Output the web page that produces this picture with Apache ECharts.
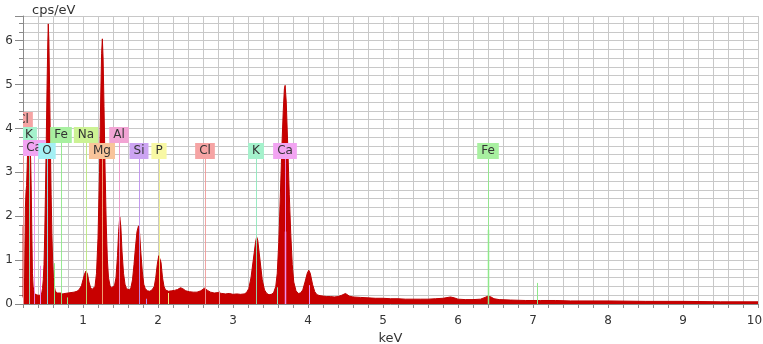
<!DOCTYPE html>
<html><head><meta charset="utf-8">
<script src="https://cdn.jsdelivr.net/npm/echarts@6/dist/echarts.min.js"></script>
<style>html,body{margin:0;padding:0;background:#fff}#c{width:763px;height:344px}</style>
</head><body><div id="c"></div>
<script>
// ---- spectrum (keV, cps/eV) ----
const energy = [
0.200,0.202,0.206,0.210,0.216,0.222,0.226,0.232,0.240,0.248,0.255,0.262,0.270,0.278,0.286,0.294,0.302,0.310,0.318,0.326,
0.335,0.345,0.360,0.380,0.400,0.420,0.440,0.450,0.460,0.470,0.480,0.490,0.500,0.510,0.520,0.530,0.537,0.545,0.555,0.565,
0.575,0.585,0.595,0.605,0.615,0.630,0.650,0.670,0.700,0.730,0.760,0.800,0.840,0.880,0.920,0.950,0.980,1.000,1.020,1.040,
1.060,1.080,1.100,1.120,1.140,1.160,1.180,1.200,1.220,1.235,1.248,1.258,1.268,1.280,1.295,1.310,1.325,1.340,1.360,1.380,
1.400,1.420,1.440,1.460,1.475,1.490,1.505,1.520,1.540,1.560,1.580,1.600,1.620,1.640,1.660,1.680,1.700,1.720,1.740,1.755,
1.770,1.790,1.810,1.830,1.860,1.890,1.920,1.950,1.970,1.990,2.010,2.025,2.040,2.060,2.080,2.100,2.140,2.180,2.220,2.260,
2.300,2.330,2.370,2.420,2.470,2.520,2.570,2.620,2.660,2.700,2.750,2.800,2.850,2.900,2.950,3.000,3.050,3.100,3.150,3.180,
3.210,3.240,3.270,3.300,3.315,3.330,3.360,3.390,3.420,3.450,3.480,3.510,3.540,3.570,3.590,3.610,3.630,3.650,3.670,3.685,
3.695,3.710,3.730,3.750,3.770,3.790,3.810,3.840,3.870,3.900,3.930,3.960,3.990,4.010,4.030,4.060,4.090,4.120,4.160,4.200,
4.250,4.300,4.350,4.400,4.450,4.500,4.550,4.600,4.700,4.800,4.900,5.000,5.100,5.200,5.300,5.400,5.500,5.600,5.700,5.800,
5.900,5.950,6.000,6.100,6.200,6.300,6.360,6.400,6.440,6.480,6.550,6.700,6.900,7.100,7.300,7.500,8.000,8.500,9.000,9.500,
10.000
];
const counts = [
0.15,1.75,1.80,0.70,0.45,0.60,1.30,2.20,2.55,2.70,3.10,3.50,3.75,3.90,3.80,3.55,3.30,2.60,1.60,0.70,
0.40,0.30,0.22,0.18,0.20,0.16,0.20,0.25,0.35,0.55,0.90,1.60,2.60,3.70,4.90,5.90,6.38,6.00,4.90,3.60,
2.50,1.60,1.00,0.60,0.42,0.30,0.25,0.22,0.25,0.23,0.24,0.25,0.26,0.27,0.29,0.33,0.42,0.55,0.68,0.75,
0.68,0.50,0.38,0.33,0.34,0.40,0.70,1.50,3.00,4.60,5.70,6.04,5.60,4.50,3.00,1.80,1.00,0.60,0.42,0.37,
0.36,0.42,0.60,1.10,1.65,1.98,1.75,1.20,0.70,0.45,0.35,0.31,0.32,0.38,0.55,0.90,1.30,1.65,1.78,1.60,
1.20,0.75,0.45,0.35,0.30,0.29,0.32,0.40,0.60,0.90,1.10,1.12,0.95,0.60,0.40,0.32,0.29,0.30,0.31,0.33,
0.37,0.35,0.30,0.28,0.27,0.27,0.30,0.36,0.31,0.27,0.25,0.26,0.24,0.23,0.24,0.22,0.23,0.22,0.23,0.26,
0.35,0.60,1.00,1.40,1.53,1.45,1.00,0.55,0.32,0.24,0.21,0.22,0.25,0.40,0.70,1.40,2.40,3.50,4.40,4.90,
4.98,4.60,3.60,2.50,1.60,0.90,0.50,0.30,0.24,0.25,0.32,0.50,0.70,0.77,0.70,0.45,0.28,0.21,0.19,0.18,
0.17,0.17,0.16,0.17,0.20,0.24,0.18,0.16,0.15,0.14,0.13,0.13,0.12,0.12,0.11,0.11,0.11,0.11,0.12,0.13,
0.16,0.14,0.11,0.10,0.10,0.11,0.15,0.18,0.16,0.12,0.10,0.09,0.08,0.08,0.08,0.07,0.07,0.06,0.06,0.05,
0.05
];
// ---- element markers ----
const lineElement = ['Cl','K','Ca','O','Fe','Na','Mg','Al','Si','P','Cl','K','Ca','Fe'];
const lineEnergy  = [0.202,0.277,0.341,0.525,0.705,1.041,1.254,1.486,1.740,2.013,2.622,3.313,3.691,6.400];
const lineIntensity = [0,0,0,0,0,0,0,0,0,0,0,0,1.65,1.69];
const minorElement = ['Ca','Fe','Fe','Si','P','Cl','K','Ca','Fe'];
const minorEnergy  = [0.430,0.615,0.790,1.835,2.139,2.815,3.589,4.012,7.058];
const minorHeight  = [0.87,0.93,0.15,0.12,0.25,0.30,0.38,0.43,0.48];
const xTickLabels = ['1','2','3','4','5','6','7','8','9','10'];
const yTickLabels = ['0','1','2','3','4','5','6'];

// ---- layout / style (not data) ----
const labelLevel = [4.19,3.84,3.55,3.49,3.84,3.84,3.49,3.84,3.49,3.49,3.49,3.49,3.49,3.49];
const bgColor = {Cl:'#f6a4a4',K:'#a4f2cc',Ca:'#f2a4f2',O:'#a4f0f4',Fe:'#a8f0a0',Na:'#ccf294',Mg:'#f8c49a',Al:'#f2a4d4',Si:'#cca4f2',P:'#f8f8a4'};
const lnColor = {Cl:'#f09a9a',K:'#8ee8bc',Ca:'#ec8cec',O:'#8ce8ee',Fe:'#8ee88a',Na:'#bce880',Mg:'#f4b080',Al:'#ee90c4',Si:'#bc90ee',P:'#eeee88'};

const FONT = '"DejaVu Sans", Verdana, sans-serif';
const spectrum = energy.map((e,i)=>[e,counts[i]]);

const lineItems = [];
lineEnergy.forEach((e,i)=>{
  lineItems.push({e:e, top:labelLevel[i], color:lnColor[lineElement[i]], w:1, op:0.9});
  if (lineIntensity[i] > 0) lineItems.push({e:e, top:lineIntensity[i], color:lnColor[lineElement[i]], w:1.5, op:1});
});
minorEnergy.forEach((e,i)=>{
  lineItems.push({e:e, top:minorHeight[i], color:lnColor[minorElement[i]], w:1, op:1});
});
const labelItems = lineEnergy.map((e,i)=>({e:e, level:labelLevel[i], name:lineElement[i], bg:bgColor[lineElement[i]]}));

function isInt(v){ return Math.abs(v-Math.round(v))<1e-6; }
const lastX = xTickLabels[xTickLabels.length-1];

const chart = echarts.init(document.getElementById('c'), null, {renderer:'canvas'});
chart.setOption({
  animation:false,
  backgroundColor:'#fff',
  title:{text:'cps/eV', left:27, top:-1, textStyle:{fontFamily:FONT, fontSize:13, fontWeight:'normal', color:'#333'}},
  grid:{left:23, right:5, top:16, bottom:40, containLabel:false, outerBoundsMode:'none'},
  xAxis:{
    type:'value', min:0.2, max:10, interval:0.2,
    name:'keV', nameLocation:'middle', nameGap:26,
    nameTextStyle:{fontFamily:FONT, fontSize:13, color:'#333'},
    axisLine:{show:true, lineStyle:{color:'#8a8a8a'}},
    axisTick:{show:true, length:4, lineStyle:{color:'#8a8a8a'}},
    axisLabel:{fontFamily:FONT, fontSize:12, color:'#333', margin:11,
      formatter:v=>{ if(!isInt(v)) return ''; const s=String(Math.round(v)); if(s===lastX) return '{m|'+s+'}'; return xTickLabels.indexOf(s)>=0?s:''; },
      rich:{m:{fontFamily:FONT, fontSize:12, color:'#333', padding:[0,7,0,0]}}},
    splitLine:{show:true, lineStyle:{color:'#c8c8c8', width:1}}
  },
  yAxis:{
    type:'value', min:0, max:6.56, interval:1,
    axisLine:{show:true, lineStyle:{color:'#8a8a8a'}},
    axisTick:{show:true, length:8, lineStyle:{color:'#8a8a8a'}},
    minorTick:{show:true, splitNumber:5, length:4, lineStyle:{color:'#8a8a8a'}},
    axisLabel:{fontFamily:FONT, fontSize:12, color:'#333', margin:10,
      formatter:v=>{ if(!isInt(v)) return ''; const s=String(Math.round(v)); return yTickLabels.indexOf(s)>=0?s:''; }},
    splitLine:{show:true, lineStyle:{color:'#c8c8c8', width:1}},
    minorSplitLine:{show:true, lineStyle:{color:'#c8c8c8', width:1}}
  },
  series:[
    {
      type:'line', data:spectrum, showSymbol:false, symbol:'none', z:2, silent:true,
      lineStyle:{color:'#bd0000', width:1},
      areaStyle:{color:'#c80000', opacity:1, origin:'start'}
    },
    {
      type:'custom', z:3, silent:true, clip:true,
      data:lineItems.map(it=>[it.e, it.top]),
      encode:{x:0, y:1},
      renderItem:(params, api)=>{
        const it = lineItems[params.dataIndex];
        const p0 = api.coord([it.e, 0]);
        const p1 = api.coord([it.e, it.top]);
        const x = Math.round(p0[0]) + 0.5;
        return {type:'line', shape:{x1:x, y1:p0[1], x2:x, y2:p1[1]},
          style:{stroke:it.color, lineWidth:it.w, opacity:it.op}};
      }
    },
    {
      type:'custom', z:4, silent:true, clip:true,
      data:labelItems.map(it=>[it.e, it.level]),
      encode:{x:0, y:1},
      renderItem:(params, api)=>{
        const it = labelItems[params.dataIndex];
        const p = api.coord([it.e, it.level]);
        return {type:'text', x:Math.round(p[0]), y:Math.round(p[1]),
          style:{text:it.name, fill:'#333', font:'12px ' + FONT, align:'center', verticalAlign:'middle',
            backgroundColor:it.bg, padding:[2,4,2,4]}};
      }
    }
  ]
});
</script>
</body></html>
